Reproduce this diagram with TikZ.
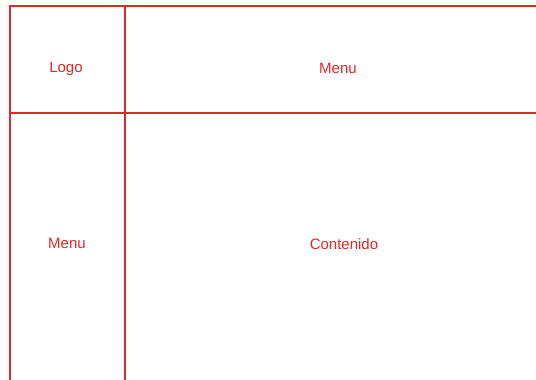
\documentclass[tikz,border=0pt]{standalone}
\usepackage{fontspec}
\setmainfont{Liberation Sans}
\definecolor{wired}{HTML}{E02828}
\begin{document}
\begin{tikzpicture}[x=1pt,y=-1pt,
  cell/.style={draw=wired,line width=1.6pt},
  lbl/.style={text=wired,font=\fontsize{15}{17}\selectfont,inner sep=0pt}]
\useasboundingbox (0,0) rectangle (536,380);
\begin{scope}
\clip (0,0) rectangle (536,380);
\draw[cell] (10,6) rectangle (125,113);
\draw[cell] (125,6) rectangle (560,113);
\draw[cell] (10,113) rectangle (125,400);
\draw[cell] (125,113) rectangle (560,400);
\end{scope}
\node[lbl] (logo) at (66,68.5) {Logo};
\node[lbl] (menutop) at (338,68) {Menu};
\node[lbl] (menuleft) at (67,243) {Menu};
\node[lbl] (content) at (344,244) {Contenido};
\end{tikzpicture}
\end{document}
